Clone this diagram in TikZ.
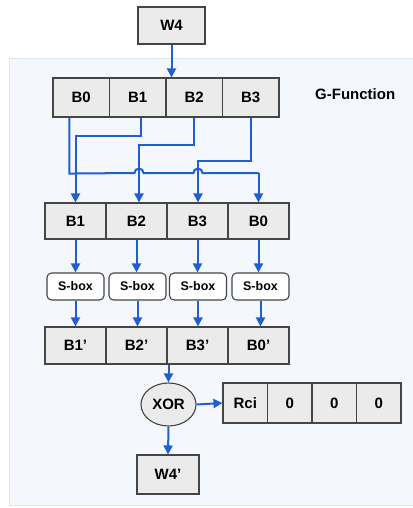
\documentclass[tikz,border=0pt]{standalone}
\usepackage{fontspec}
\setmainfont{Liberation Sans}
\usetikzlibrary{arrows.meta,shapes.geometric}
\definecolor{arrblue}{HTML}{1F5FD2}
\definecolor{boxfill}{HTML}{EBEBEB}
\definecolor{boxline}{HTML}{454545}
\definecolor{panelfill}{HTML}{F4F8FC}
\definecolor{panelline}{HTML}{DDE4EC}
\tikzset{
  cell/.style={draw=boxline, fill=boxfill, line width=1.1pt, minimum height=37pt, inner sep=0pt,
    font=\fontsize{15}{17}\selectfont\bfseries},
  sbox/.style={draw=boxline, fill=white, line width=1.1pt, rectangle, rounded corners=4.5pt,
    minimum width=57pt, minimum height=27pt, inner sep=0pt,
    font=\fontsize{12.5}{14}\selectfont\bfseries},
  arr/.style={draw=arrblue, line width=2pt, -{Triangle[width=9pt,length=9pt]}},
  wire/.style={draw=arrblue, line width=2pt},
}
\begin{document}
\begin{tikzpicture}[x=1pt,y=-1pt]
\useasboundingbox (0,0) rectangle (412,508);
% panel
\fill[panelfill] (9.5,58.5) rectangle (414,505);
\draw[panelline, line width=0.8pt] (414,58.5) -- (9.5,58.5) -- (9.5,505) -- (414,505);

% W4
\node[cell, minimum width=67pt, minimum height=37pt] (w4) at (171.5,25.5) {W4};

% top row
\node[cell, minimum width=56.5pt, minimum height=39pt] (t0) at (81.25,97.5) {B0};
\node[cell, minimum width=56.5pt, minimum height=39pt] (t1) at (137.75,97.5) {B1};
\node[cell, minimum width=56.5pt, minimum height=39pt] (t2) at (194.25,97.5) {B2};
\node[cell, minimum width=56.5pt, minimum height=39pt] (t3) at (250.75,97.5) {B3};
\node[font=\fontsize{15}{17}\selectfont\bfseries, anchor=west, inner sep=0pt] (gf) at (315,94) {G-Function};

% middle row
\node[cell, minimum width=61pt, minimum height=36pt] (m1) at (75.5,221) {B1};
\node[cell, minimum width=61pt, minimum height=36pt] (m2) at (136.5,221) {B2};
\node[cell, minimum width=61pt, minimum height=36pt] (m3) at (197.5,221) {B3};
\node[cell, minimum width=61pt, minimum height=36pt] (m0) at (258.5,221) {B0};

% s-boxes
\node[sbox] (s1) at (75.5,286.5) {S-box};
\node[sbox] (s2) at (137.5,286.5) {S-box};
\node[sbox] (s3) at (198,286.5) {S-box};
\node[sbox] (s0) at (260.5,286.5) {S-box};

% third row
\node[cell, minimum width=61pt, minimum height=37pt] (p1) at (75.5,345.5) {B1’};
\node[cell, minimum width=61pt, minimum height=37pt] (p2) at (136.5,345.5) {B2’};
\node[cell, minimum width=61pt, minimum height=37pt] (p3) at (197.5,345.5) {B3’};
\node[cell, minimum width=61pt, minimum height=37pt] (p0) at (258.5,345.5) {B0’};

% XOR
\node[draw=boxline, fill=boxfill, line width=1.1pt, ellipse, minimum width=55pt, minimum height=43pt,
  inner sep=0pt, font=\fontsize{15}{17}\selectfont\bfseries] (xor) at (168.5,404.5) {XOR};

% Rci row
\node[cell, minimum width=44.5pt, minimum height=40pt] (r0) at (245.25,403) {Rci};
\node[cell, minimum width=44.5pt, minimum height=40pt] (r1) at (289.75,403) {0};
\node[cell, minimum width=44.5pt, minimum height=40pt] (r2) at (334.25,403) {0};
\node[cell, minimum width=44.5pt, minimum height=40pt] (r3) at (378.75,403) {0};

% W4'
\node[cell, minimum width=62pt, minimum height=39pt] (w4p) at (168,474.5) {W4’};

% connectors
\draw[arr] (w4.south) -- (w4.south |- t1.north);

% permutation wires
\draw[wire] ([xshift=-12pt]t0.south) -- ++(0,56) -- (134.5,173)
  arc[start angle=180, end angle=0, radius=4.5pt] -- (193.5,173)
  arc[start angle=180, end angle=0, radius=4.5pt] -- (258.5,173);
\draw[arr] (258.5,173) -- (m0.north);
\draw[arr] ([xshift=3pt]t1.south) -- ++(0,18) -| (m1.north);
\draw[arr] (t2.south) -- ++(0,27) -| ([xshift=2.5pt]m2.north);
\draw[arr] (t3.south) -- ++(0,43) -| ([xshift=0.5pt]m3.north);

\foreach \a/\b/\c in {m1/s1/p1, m2/s2/p2, m3/s3/p3, m0/s0/p0}{
  \draw[arr] (\a.south) -- (\a.south |- \b.north);
  \draw[arr] (\b.south) -- (\b.south |- \c.north);
}

\draw[arr] (xor.north |- p3.south) -- (xor.north);
\draw[arr] (xor.east) -- (r0.west);
\draw[arr] (xor.south) -- (w4p.north);
\end{tikzpicture}
\end{document}
